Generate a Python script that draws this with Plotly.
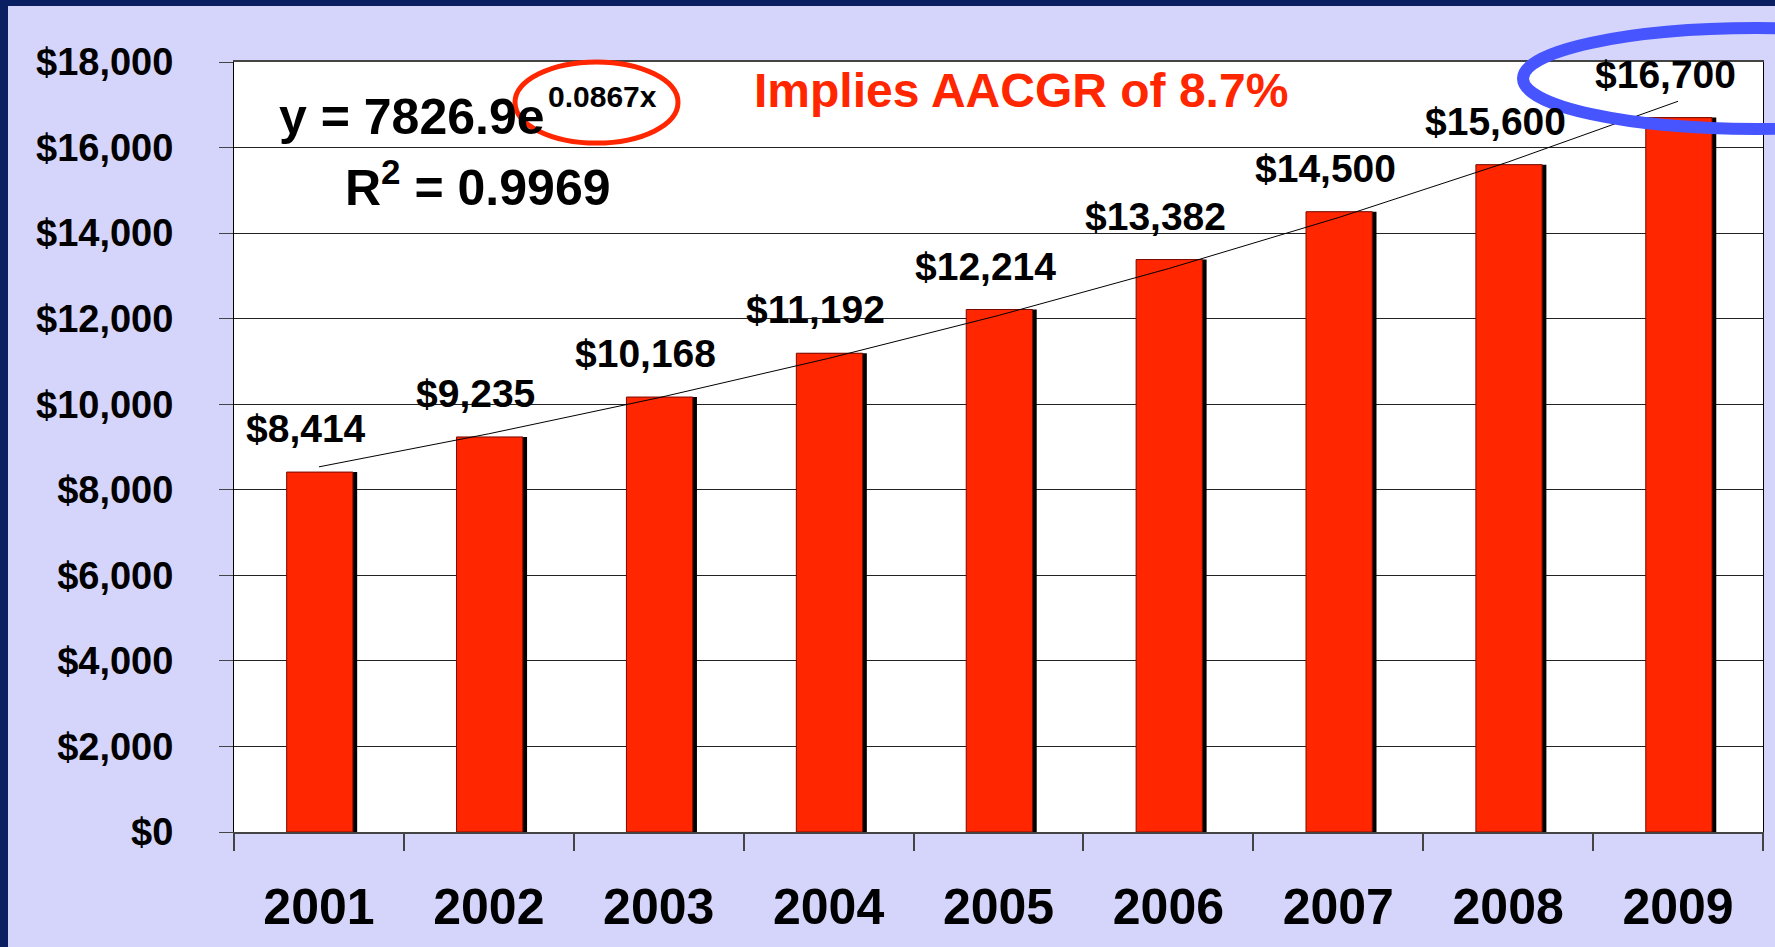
import plotly.graph_objects as go

# ---- data ----
years = ["2001", "2002", "2003", "2004", "2005", "2006", "2007", "2008", "2009"]
values = [8414, 9235, 10168, 11192, 12214, 13382, 14500, 15600, 16700]
bar_labels = ["$8,414", "$9,235", "$10,168", "$11,192", "$12,214",
              "$13,382", "$14,500", "$15,600", "$16,700"]
# exponential trendline (y = 7826.9e^0.0867x) as drawn, value at each year
trend = [8536, 9309, 10152, 11072, 12075, 13169, 14362, 15663, 17082]
y_ticks = [0, 2000, 4000, 6000, 8000, 10000, 12000, 14000, 16000, 18000]
y_tick_labels = ["$0", "$2,000", "$4,000", "$6,000", "$8,000", "$10,000",
                 "$12,000", "$14,000", "$16,000", "$18,000"]
eq_main = "y = 7826.9e"
eq_exp = "0.0867x"
r2_text = "R<sup>2</sup> = 0.9969"
note_text = "Implies AACGR of 8.7%"

# category positions on the x axis
pos = list(range(len(years)))
bounds = [p - 0.5 for p in pos] + [pos[-1] + 0.5]

# ---- geometry helpers (pixel -> paper) ----
W, H = 1775, 947
L, R, T, B = 234, 1763, 62, 832
PW, PH = R - L, B - T


def px(x):
    return (x - L) / PW


def py(y):
    return (B - y) / PH


FONT = "Liberation Sans, Arial, sans-serif"
RED = "#FF2600"
BG = "#D5D5FB"
NAVY = "#0A1E62"

fig = go.Figure()

# bar shadow
fig.add_trace(go.Bar(
    x=pos, y=values, width=0.39, offset=-0.165,
    marker=dict(color="black", line=dict(width=0)),
    hoverinfo="skip", showlegend=False,
))
# bars
fig.add_trace(go.Bar(
    x=pos, y=values, width=0.39, offset=-0.19,
    marker=dict(color=RED, line=dict(color="#7A0A00", width=1)),
    showlegend=False,
))
# trendline (on overlaying axis that carries boundary ticks)
fig.add_trace(go.Scatter(
    x=pos, y=trend, mode="lines", xaxis="x2",
    line=dict(color="black", width=1),
    hoverinfo="skip", showlegend=False,
))

annotations = []
for p, v, lab in zip(pos, values, bar_labels):
    annotations.append(dict(
        x=p, y=v, xref="x", yref="y", text=lab, showarrow=False,
        xanchor="center", yanchor="bottom", xshift=-13, yshift=20,
        font=dict(family=FONT, size=39, color="black", weight="bold"),
    ))

annotations += [
    dict(x=px(277), y=py(117), xref="paper", yref="paper", text=eq_main,
         showarrow=False, xanchor="left", yanchor="middle",
         font=dict(family=FONT, size=50, color="black", weight="bold")),
    dict(x=px(546), y=py(97), xref="paper", yref="paper", text=eq_exp,
         showarrow=False, xanchor="left", yanchor="middle",
         font=dict(family=FONT, size=30, color="black", weight="bold")),
    dict(x=px(343), y=py(184), xref="paper", yref="paper", text=r2_text,
         showarrow=False, xanchor="left", yanchor="middle",
         font=dict(family=FONT, size=50, color="black", weight="bold")),
    dict(x=px(1021), y=py(91), xref="paper", yref="paper", text=note_text,
         showarrow=False, xanchor="center", yanchor="middle",
         font=dict(family=FONT, size=48, color=RED, weight="bold")),
]

shapes = [
    # navy frame strips
    dict(type="rect", xref="paper", yref="paper", x0=px(0), x1=px(W), y0=py(0), y1=py(6),
         fillcolor=NAVY, line=dict(width=0), layer="below"),
    dict(type="rect", xref="paper", yref="paper", x0=px(0), x1=px(8), y0=py(0), y1=py(H),
         fillcolor=NAVY, line=dict(width=0), layer="below"),
    # red ellipse around exponent
    dict(type="circle", xref="paper", yref="paper", x0=px(515), x1=px(678), y0=py(62), y1=py(143),
         line=dict(color=RED, width=5)),
    # blue ellipse around last label
    dict(type="circle", xref="paper", yref="paper", x0=px(1523), x1=px(1990), y0=py(28), y1=py(129),
         line=dict(color="#4655FF", width=12)),
]

fig.update_layout(
    width=W, height=H,
    margin=dict(l=L, r=W - R, t=T, b=H - B, pad=0, autoexpand=False),
    paper_bgcolor=BG, plot_bgcolor="white",
    barmode="overlay",
    annotations=annotations, shapes=shapes,
    font=dict(family=FONT, color="black"),
    xaxis=dict(
        range=[-0.5, len(years) - 0.5], tickvals=pos, ticktext=years,
        ticks="", showgrid=False, zeroline=False,
        showline=True, linecolor="#444", linewidth=2, mirror=True,
        tickfont=dict(family=FONT, size=50, color="black", weight="bold"),
        ticklabelstandoff=30, tickangle=0,
    ),
    xaxis2=dict(
        overlaying="x", anchor="y", side="bottom",
        range=[-0.5, len(years) - 0.5], tickvals=bounds,
        ticks="outside", ticklen=18, tickcolor="#444", tickwidth=1.5,
        showticklabels=False, showgrid=False, zeroline=False, showline=False,
    ),
    yaxis=dict(
        range=[0, 18000], tickvals=y_ticks, ticktext=y_tick_labels,
        ticks="outside", ticklen=14, tickcolor="#444",
        showgrid=True, gridcolor="#222", gridwidth=1,
        showline=True, linecolor="black", linewidth=1, mirror=True,
        zeroline=False,
        tickfont=dict(family=FONT, size=38, color="black", weight="bold"),
        ticklabelstandoff=38,
    ),
)

fig.write_html(
    "out.html",
    config={"displayModeBar": False},
    post_script="document.body.style.margin='0';document.body.style.overflow='hidden';",
)
